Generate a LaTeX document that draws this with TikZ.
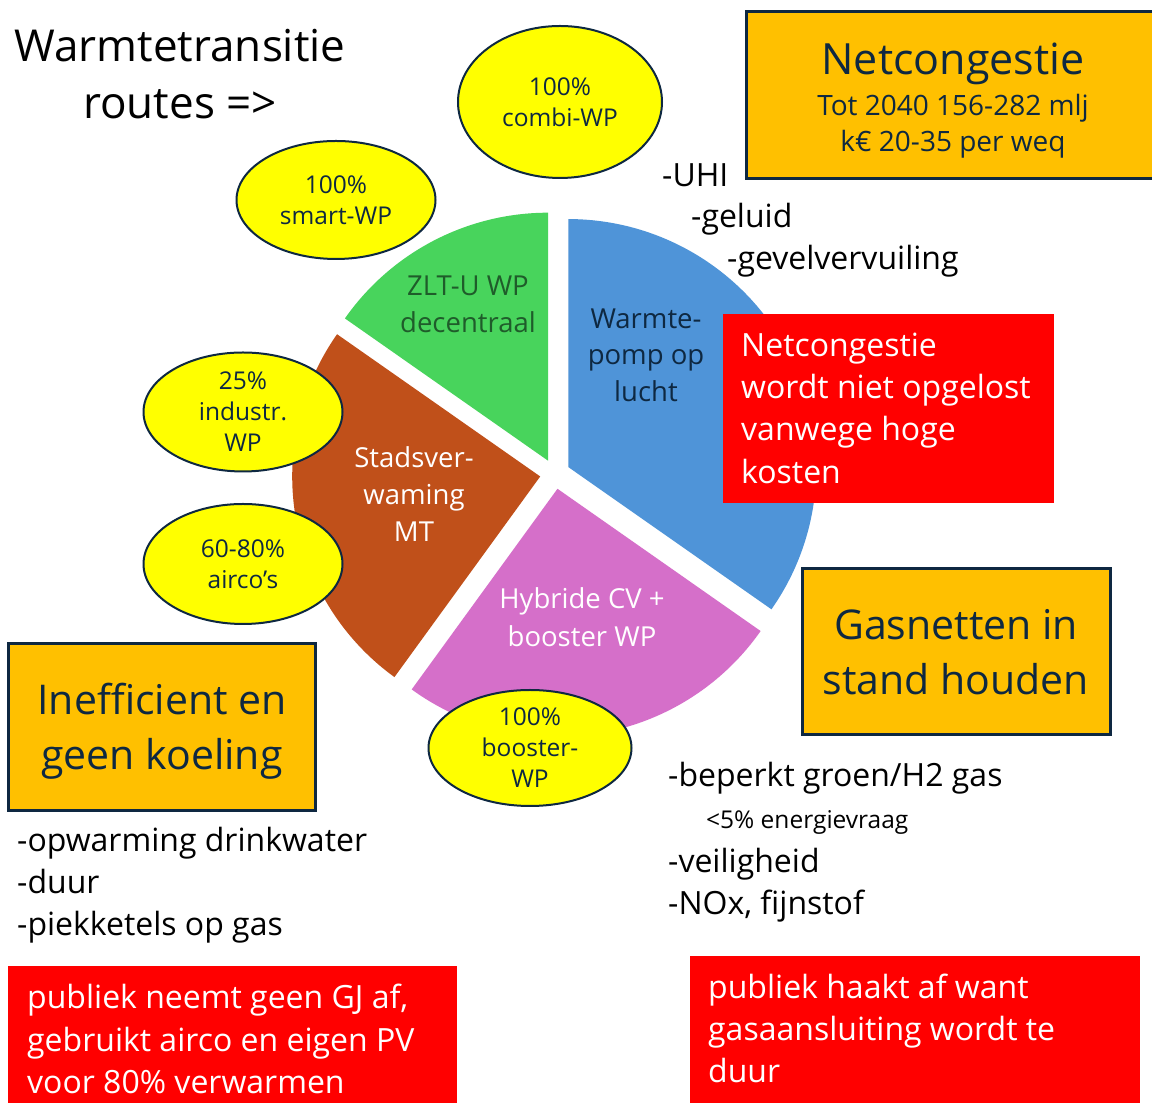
\documentclass[tikz,border=0pt]{standalone}
\usepackage{fontspec}
\setmainfont{Open Sans}
\usetikzlibrary{shapes.geometric}
\definecolor{navy}{HTML}{0E2841}
\definecolor{pgreen}{HTML}{48D45C}
\definecolor{pblue}{HTML}{4F94D8}
\definecolor{pbrown}{HTML}{C0501A}
\definecolor{ppink}{HTML}{D56FC9}
\definecolor{orng}{HTML}{FFC000}
\definecolor{yel}{HTML}{FFFF00}
\definecolor{rred}{HTML}{FF0000}
\definecolor{gtext}{HTML}{1F5C2A}
\tikzset{
  fs/.style={font=\fontsize{#1}{#1}\selectfont},
  ctr/.style={inner sep=0pt, anchor=base},
  lft/.style={inner sep=0pt, anchor=base west},
  bubble/.style={ellipse, draw=navy, line width=2pt, fill=yel, inner sep=0pt,
    align=center, text=navy, font=\fontsize{24.5}{31}\selectfont},
  obox/.style={rectangle, draw=navy, line width=3pt, fill=orng, inner sep=0pt},
  rbox/.style={rectangle, fill=rred, inner sep=0pt},
}
\begin{document}
\begin{tikzpicture}[x=1pt,y=1pt]
\useasboundingbox (0,0) rectangle (1152,1103);
\fill[white] (0,0) rectangle (1152,1103);
\clip (0,0) rectangle (1152,1103);

% pie slices
\fill[pblue]  (555,629) ++(27.5:15)  -- ++(-35:248) arc[start angle=-35, end angle=90,  radius=248] -- cycle;
\fill[pgreen] (555,629) ++(117.5:15) -- ++(90:248)  arc[start angle=90,  end angle=145, radius=248] -- cycle;
\fill[pbrown] (555,629) ++(189.5:15) -- ++(145:248) arc[start angle=145, end angle=234, radius=248] -- cycle;
\fill[ppink]  (555,629) ++(279.5:15) -- ++(234:248) arc[start angle=234, end angle=325, radius=248] -- cycle;

% slice labels
\node[ctr, fs=27.5, text=gtext] (zl1) at (468,807) {ZLT-U WP};
\node[ctr, fs=27.5, text=gtext] (zl2) at (468,770) {decentraal};
\node[ctr, fs=27.5, text=navy] (wl1) at (646,774) {Warmte-};
\node[ctr, fs=27.5, text=navy] (wl2) at (646,738) {pomp op};
\node[ctr, fs=27.5, text=navy] (wl3) at (646,701) {lucht};
\node[ctr, fs=27.5, text=white] (sl1) at (414,635) {Stadsver-};
\node[ctr, fs=27.5, text=white] (sl2) at (414,598) {waming};
\node[ctr, fs=27.5, text=white] (sl3) at (414,561) {MT};
\node[ctr, fs=27.5, text=white] (hl1) at (582,494) {Hybride CV +};
\node[ctr, fs=27.5, text=white] (hl2) at (582,456) {booster WP};

% ellipses
\node[bubble, minimum width=204pt, minimum height=152pt] (combi) at (560,1001) {100\%\\combi-WP};
\node[bubble, minimum width=199pt, minimum height=118pt] (smart) at (336,903) {100\%\\smart-WP};
\node[bubble, minimum width=199pt, minimum height=119pt] (indus) at (243,691) {25\%\\industr.\\WP};
\node[bubble, minimum width=199pt, minimum height=120pt] (airco) at (243,539) {60-80\%\\airco’s};
\node[bubble, minimum width=203pt, minimum height=116pt] (boost) at (530,355) {100\%\\booster-\\WP};

% title
\node[ctr, fs=44] (t1) at (180,1041) {Warmtetransitie};
\node[ctr, fs=44] (t2) at (180,984) {routes =>};

% boxes
\node[obox, minimum width=424pt, minimum height=167pt] (netbox) at (958,1008) {};
\node[rbox, minimum width=331pt, minimum height=189pt] (redmid) at (888.5,694.5) {};
\node[obox, minimum width=308pt, minimum height=166pt] (gasbox) at (956.5,451.5) {};
\node[obox, minimum width=307pt, minimum height=167pt] (inebox) at (162,376) {};
\node[rbox, minimum width=449pt, minimum height=142pt] (redbl) at (232.5,66) {};
\node[rbox, minimum width=450pt, minimum height=152pt] (redbr) at (915,71) {};

% box texts
\node[ctr, fs=43, text=navy] (n1) at (953,1028) {Netcongestie};
\node[ctr, fs=28, text=navy] (n2) at (953,987) {Tot 2040 156-282 mlj};
\node[ctr, fs=28, text=navy] (n3) at (953,951) {k€ 20-35 per weq};

\node[lft, fs=32, text=white] (r1) at (741,746) {Netcongestie};
\node[lft, fs=32, text=white] (r2) at (741,704) {wordt niet opgelost};
\node[lft, fs=32, text=white] (r3) at (741,662) {vanwege hoge};
\node[lft, fs=32, text=white] (r4) at (741,619) {kosten};

\node[ctr, fs=41, text=navy] (g1) at (956,463) {Gasnetten in};
\node[ctr, fs=41, text=navy] (g2) at (956,408) {stand houden};

\node[ctr, fs=41, text=navy] (i1) at (162,388) {Inefficient en};
\node[ctr, fs=41, text=navy] (i2) at (162,333) {geen koeling};

\node[lft, fs=32, text=white] (b1) at (27,94) {publiek neemt geen GJ af,};
\node[lft, fs=32, text=white] (b2) at (27,51) {gebruikt airco en eigen PV};
\node[lft, fs=32, text=white] (b3) at (27,9) {voor 80\% verwarmen};

\node[lft, fs=32, text=white] (c1) at (708,104) {publiek haakt af want};
\node[lft, fs=32, text=white] (c2) at (708,62) {gasaansluiting wordt te};
\node[lft, fs=32, text=white] (c3) at (708,20) {duur};

% lists
\node[lft, fs=32] (uhi) at (662,916) {-UHI};
\node[lft, fs=32] (gel) at (691,875) {-geluid};
\node[lft, fs=32] (gev) at (727,833) {-gevelvervuiling};

\node[lft, fs=32] (opw) at (17,251) {-opwarming drinkwater};
\node[lft, fs=32] (duu) at (17,209) {-duur};
\node[lft, fs=32] (pie) at (17,167) {-piekketels op gas};

\node[lft, fs=32] (bep) at (668,316) {-beperkt groen/H2 gas};
\node[lft, fs=24.5] (ene) at (706,274) {<5\% energievraag};
\node[lft, fs=32] (vei) at (668,230) {-veiligheid};
\node[lft, fs=32] (nox) at (668,188) {-NOx, fijnstof};
\end{tikzpicture}
\end{document}
